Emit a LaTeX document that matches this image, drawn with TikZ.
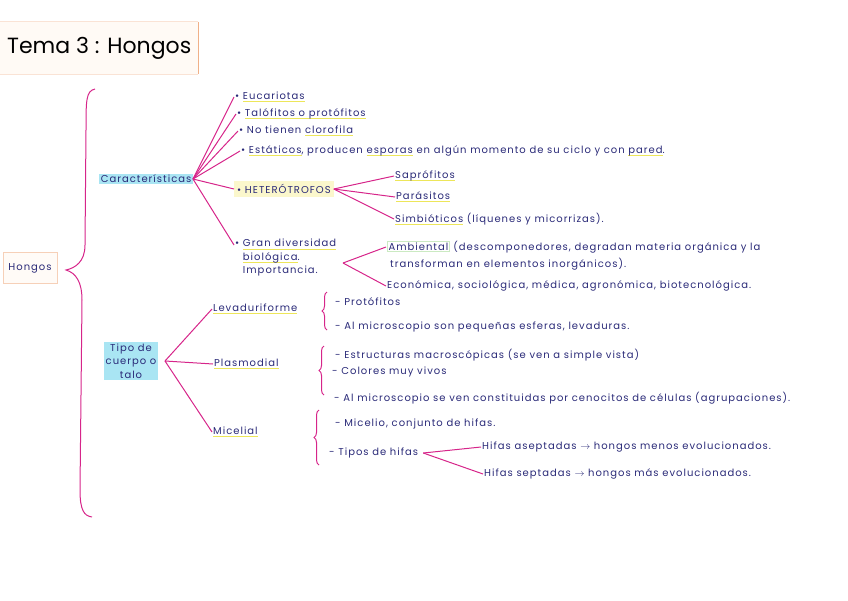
\documentclass[tikz,border=0pt]{standalone}
\usepackage{fontspec}
\setmainfont{Poppins}
\newfontfamily\hand[LetterSpace=10]{Poppins}
\usetikzlibrary{calc,decorations.pathreplacing}
\definecolor{mmpink}{HTML}{D6258A}
\definecolor{mmink}{HTML}{2A2A78}
\definecolor{mmcyan}{HTML}{A9E5F3}
\definecolor{mmyellow}{HTML}{EDE65A}
\definecolor{mmcream}{HTML}{FBF7CC}
\definecolor{mmorange}{HTML}{F0B088}
\definecolor{mmgreen}{HTML}{CBEAC2}
\newsavebox{\yulbox}
\newcommand{\yul}[1]{\sbox{\yulbox}{#1}\rlap{\textcolor{mmyellow}{\rule[-0.5ex]{\wd\yulbox}{0.9pt}}}\usebox{\yulbox}}
\setlength{\fboxsep}{1pt}

\begin{document}
\begin{tikzpicture}[
  x=1pt, y=-1pt,
  txt/.style={font=\hand\fontsize{10}{13.5}\selectfont, text=mmink, inner sep=1pt, anchor=west, align=left},
  hlbox/.style={txt, fill=mmcyan, inner sep=1.5pt},
  hetbox/.style={txt, fill=mmcream, inner sep=3pt},
  link/.style={mmpink, line width=1pt},
  curly/.style={mmpink, line width=1pt, decorate, decoration={brace, amplitude=5pt}},
]
  \useasboundingbox (0,0) rectangle (848,600);

  %% Title and root
  \node[fill=orange!4, minimum width=198, minimum height=52, anchor=west,
        font=\fontsize{22}{26}\selectfont] (title) at (0,48) {Tema 3 : Hongos};
  \draw[mmorange, line width=1.6pt] (title.north east) -- (title.south east);
  \draw[mmorange!35, line width=1pt] (title.north west) -- (title.north east)
        (title.south west) -- (title.south east);
  \node[txt, draw=mmorange!60, fill=orange!3, minimum width=54, minimum height=31, align=center,
        anchor=center] (hongos) at (30,268) {Hongos};
  \draw[link] (95,89) .. controls (86,91) and (86,100) .. (86,130) -- (85,245)
        .. controls (85,262) and (75,268) .. (66,270)
        .. controls (76,273) and (82,282) .. (82,300) -- (80,490)
        .. controls (80,510) and (84,516) .. (92,517);

  %% Características
  \node[hlbox, anchor=east] (car) at (193,179) {Características};
  \node[txt] (euc) at (234,97)  {• \yul{Eucariotas}};
  \node[txt] (tal) at (236,114) {• \yul{Talófitos o protófitos}};
  \node[txt] (clo) at (238,131) {• No tienen \yul{clorofila}};
  \node[txt] (est) at (240,151) {• \yul{Estáticos}, producen \yul{esporas} en algún momento de su ciclo y con \yul{pared}.};
  \node[hetbox] (het) at (234,189) {• HETERÓTROFOS};
  \node[txt, anchor=north west] (gran) at (234,238)
    {• \yul{Gran diversidad}\\\phantom{• }\yul{biológica}.\\\phantom{• }Importancia.};
  \draw[link] (car.east) -- (euc.west);
  \draw[link] (car.east) -- (tal.west);
  \draw[link] (car.east) -- (clo.west);
  \draw[link] (car.east) -- (est.west);
  \draw[link] (car.east) -- (het.west);
  \draw[link] (car.east) -- ($(gran.north west)+(0,7)$);

  %% Heterótrofos
  \node[txt] (sap) at (394,176) {\yul{Saprófitos}};
  \node[txt] (par) at (395,197) {\yul{Parásitos}};
  \node[txt] (sim) at (394,219) {\yul{Simbióticos} (líquenes y micorrizas).};
  \draw[link] (het.east) -- (sap.west);
  \draw[link] (het.east) -- (par.west);
  \draw[link] (het.east) -- (sim.west);

  %% Importancia
  \coordinate (granfork) at (343,263);
  \node[txt] (amb) at (386,247) {\fcolorbox{mmgreen}{white}{Ambiental} (descomponedores, degradan materia orgánica y la};
  \node[txt] (amb2) at (389,264) {transforman en elementos inorgánicos).};
  \node[txt] (eco) at (386,286) {Económica, sociológica, médica, agronómica, biotecnológica.};
  \draw[link] (granfork) -- (amb.west);
  \draw[link] (granfork) -- (eco.west);

  %% Tipo de cuerpo o talo
  \node[hlbox, anchor=center, align=center] (tipo) at (131,361) {Tipo de\\cuerpo o\\talo};
  \coordinate (tipofork) at (165,361);
  \node[txt] (lev) at (212,309) {\yul{Levaduriforme}};
  \node[txt] (pla) at (213,364) {\yul{Plasmodial}};
  \node[txt] (mic) at (212,432) {\yul{Micelial}};
  \draw[link] (tipofork) -- (lev.west);
  \draw[link] (tipofork) -- (pla.west);
  \draw[link] (tipofork) -- (mic.west);

  %% Levaduriforme
  \draw[curly] (327,330) -- (327,292);
  \node[txt] (lev1) at (334,302) {- Protófitos};
  \node[txt] (lev2) at (334,327) {- Al microscopio son pequeñas esferas, levaduras.};

  %% Plasmodial
  \draw[curly] (324,395) -- (324,346);
  \node[txt] (pla1) at (334,355) {- Estructuras macroscópicas (se ven a simple vista)};
  \node[txt] (pla2) at (331,372) {- Colores muy vivos};
  \node[txt] (pla3) at (333,398) {- Al microscopio se ven constituidas por cenocitos de células (agrupaciones).};

  %% Micelial
  \draw[curly] (319,465) -- (319,410);
  \node[txt] (mic1) at (334,424) {- Micelio, conjunto de hifas.};
  \node[txt] (mic2) at (328,453) {- Tipos de hifas};
  \node[txt] (hif1) at (481,447) {Hifas aseptadas $\rightarrow$ hongos menos evolucionados.};
  \node[txt] (hif2) at (483,474) {Hifas septadas $\rightarrow$ hongos más evolucionados.};
  \draw[link] ([xshift=4pt]mic2.east) -- (hif1.west);
  \draw[link] ([xshift=4pt]mic2.east) -- (hif2.west);

\end{tikzpicture}
\end{document}
